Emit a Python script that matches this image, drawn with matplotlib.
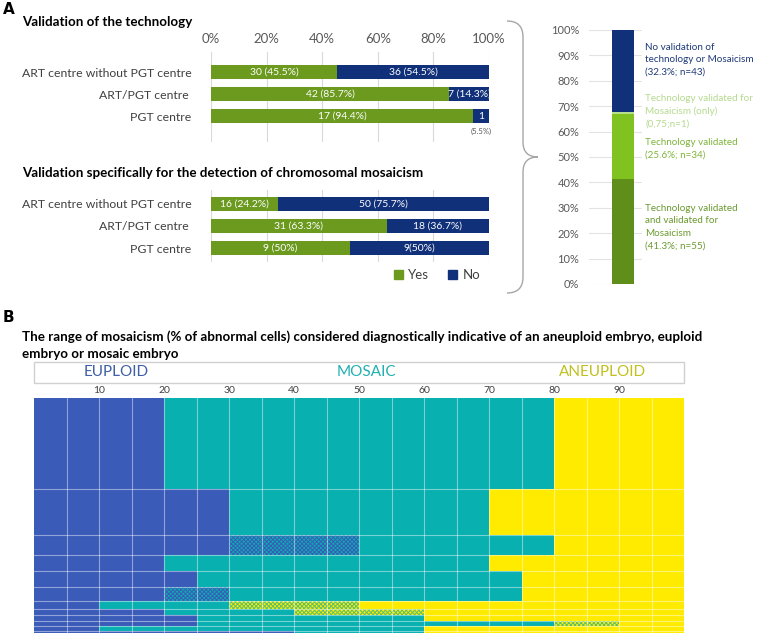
import numpy as np
import matplotlib
matplotlib.use("Agg")
import matplotlib.pyplot as plt
from matplotlib.path import Path
from matplotlib.patches import PathPatch, Rectangle, Patch

plt.rcParams['font.family'] = ['Lato', 'DejaVu Sans']
plt.rcParams['hatch.linewidth'] = 0.7

# --- data -------------------------------------------------------------
centres = ["ART centre without PGT centre", "ART/PGT centre ", "PGT centre"]

tech_yes_pct = [45.5, 85.7, 94.4]
tech_no_pct = [54.5, 14.3, 5.6]
tech_yes_lab = ["30 (45.5%)", "42 (85.7%)", "17 (94.4%)"]
tech_no_lab = ["36 (54.5%)", "7 (14.3%)", "1"]

mos_yes_pct = [24.2, 63.3, 50]
mos_no_pct = [75.7, 36.7, 50]
mos_yes_lab = ["16 (24.2%)", "31 (63.3%)", "9 (50%)"]
mos_no_lab = ["50 (75.7%)", "18 (36.7%)", "9(50%)"]

overall_pct = [41.3, 25.6, 0.75, 32.3]
overall_lab = ["Technology validated\nand validated for\nMosaicism\n(41.3%; n=55)",
               "Technology validated\n(25.6%; n=34)",
               "Technology validated for\nMosaicism (only)\n(0,75;n=1)",
               "No validation of\ntechnology or Mosaicism\n(32.3%; n=43)"]

# heatmap rows: boundaries (% abnormal cells) and category of each piece
# E = euploid, M = mosaic, A = aneuploid, EM / MA = overlapping ranges
row_edges = [[0, 20, 80, 100],
             [0, 30, 70, 100],
             [0, 30, 50, 80, 100],
             [0, 20, 70, 100],
             [0, 25, 75, 100],
             [0, 20, 30, 75, 100],
             [0, 10, 30, 50, 100],
             [0, 20, 40, 60, 100],
             [0, 25, 60, 100],
             [0, 25, 80, 90, 100],
             [0, 10, 60, 100],
             [0, 40, 60, 100]]
row_cats = [["E", "M", "A"],
            ["E", "M", "A"],
            ["E", "EM", "M", "A"],
            ["E", "M", "A"],
            ["E", "M", "A"],
            ["E", "EM", "M", "A"],
            ["E", "M", "MA", "A"],
            ["E", "M", "MA", "A"],
            ["E", "M", "A"],
            ["E", "M", "MA", "A"],
            ["E", "M", "A"],
            ["E", "M", "A"]]
row_weights = [40, 20, 9, 7, 7, 6, 3.5, 3, 2.5, 2.2, 2, 1]

# --- styles -----------------------------------------------------------
GREEN = "#6B9A1F"
NAVY = "#10307A"
GRAY_TXT = "#404040"
EUP, MOS, ANEU = "#3A5BB8", "#09B0B0", "#FFEB00"
cell_style = {"E": dict(color=EUP),
              "M": dict(color=MOS),
              "A": dict(color=ANEU),
              "EM": dict(facecolor=MOS, edgecolor=EUP, hatch="xxxxxxxx", linewidth=0),
              "MA": dict(facecolor=ANEU, edgecolor="#5CC070", hatch="xxxxxxxx", linewidth=0)}
overall_col = ["#5F8F1A", "#80C21F", "#B8E08C", NAVY]
overall_txt = ["#6A9A30", "#7EB43A", "#B5DA8E", "#1F3A78"]

W, H = 760, 641
fig = plt.figure(figsize=(W / 100, H / 100), dpi=100)


def add_ax(x0, y0, x1, y1):
    return fig.add_axes([x0 / W, 1 - y1 / H, (x1 - x0) / W, (y1 - y0) / H])


def bar_panel(ax, yes, no, yes_lab, no_lab):
    y = np.arange(len(centres))
    ax.barh(y, yes, height=0.64, color=GREEN, zorder=2)
    ax.barh(y, no, left=yes, height=0.64, color=NAVY, zorder=2)
    for i in y:
        ax.text(yes[i] / 2, i, yes_lab[i], ha='center', va='center', color='white', fontsize=7.5, zorder=3)
        ax.text(yes[i] + no[i] / 2, i, no_lab[i], ha='center', va='center', color='white', fontsize=7.5, zorder=3)
    ax.set_xlim(0, 100)
    ax.set_xticks(range(0, 101, 20))
    ax.grid(axis='x', color='#D9D9D9', lw=0.8)
    ax.set_axisbelow(True)
    ax.set_yticks(y, centres)
    ax.tick_params(axis='y', length=0, pad=14, labelsize=8.8, labelcolor=GRAY_TXT)
    ax.tick_params(axis='x', length=0)
    for s in ax.spines.values():
        s.set_visible(False)


# panel A, top
ax1 = add_ax(211, 52, 489, 142)
bar_panel(ax1, tech_yes_pct, tech_no_pct, tech_yes_lab, tech_no_lab)
ax1.set_ylim(3.18, -0.909)
ax1.xaxis.tick_top()
ax1.set_xticklabels([f"{v}%" for v in range(0, 101, 20)])
ax1.tick_params(axis='x', pad=5, labelsize=9.5, labelcolor="#595959")
ax1.text(97.2, 2.7, "(5.5%)", ha='center', va='center', fontsize=5.5, color="#595959")

# panel A, bottom
ax2 = add_ax(211, 190, 489, 262)
bar_panel(ax2, mos_yes_pct, mos_no_pct, mos_yes_lab, mos_no_lab)
ax2.set_ylim(2.636, -0.636)
ax2.tick_params(axis='x', labelbottom=False)
fig.legend(handles=[Patch(color=GREEN, label="Yes"), Patch(color=NAVY, label="No")],
           loc='center', bbox_to_anchor=(437 / W, 1 - 275 / H), ncol=2, frameon=False,
           fontsize=9.5, handlelength=0.7, handleheight=0.7, handletextpad=0.4,
           columnspacing=1.4, labelcolor=GRAY_TXT)

# panel A, right: overall stacked bar
ax3 = add_ax(589, 30, 642, 284)
bottom = 0
for v, c in zip(overall_pct, overall_col):
    ax3.bar(0.64, v, bottom=bottom, width=0.42, color=c, zorder=2)
    bottom += v
ax3.set_xlim(0, 1)
ax3.set_ylim(0, 100)
ax3.set_yticks(range(0, 101, 10), [f"{v}%" for v in range(0, 101, 10)])
ax3.grid(axis='y', color='#E3E3E3', lw=0.8)
ax3.set_axisbelow(True)
ax3.set_xticks([])
ax3.tick_params(axis='y', length=0, pad=7, labelsize=8, labelcolor="#595959")
for s in ax3.spines.values():
    s.set_visible(False)

# panel B heatmap
ax4 = add_ax(34, 398, 684, 633)
top = 0
for edges, cats, w in zip(row_edges, row_cats, row_weights):
    for a, b, c in zip(edges[:-1], edges[1:], cats):
        ax4.barh(top + w / 2, b - a, left=a, height=w, **cell_style[c])
    top += w
ax4.set_xlim(0, 100)
ax4.set_ylim(top, 0)
ax4.set_xticks(range(10, 100, 10))
ax4.set_xticks(range(5, 100, 5), minor=True)
ax4.set_yticks(np.cumsum(row_weights)[:-1])
ax4.xaxis.tick_top()
ax4.tick_params(axis='x', which='both', length=0, pad=2, labelsize=7.5, labelcolor=GRAY_TXT)
ax4.tick_params(axis='y', length=0, labelleft=False)
ax4.grid(which='both', color='white', alpha=0.45, lw=0.8)
ax4.set_axisbelow(False)
for s in ax4.spines.values():
    s.set_visible(False)

# overlay for titles, brace and labels (pixel coordinates)
ov = fig.add_axes([0, 0, 1, 1], facecolor='none')
ov.set_xlim(0, W)
ov.set_ylim(H, 0)
ov.axis('off')

ov.text(3, 10, "A", fontsize=11, fontweight='bold', va='center', family='DejaVu Sans')
ov.text(3, 318, "B", fontsize=11, fontweight='bold', va='center', family='DejaVu Sans')
ov.text(22, 22, "Validation of the technology", fontsize=9.6, fontweight='bold', va='center')
ov.text(22, 173, "Validation specifically for the detection of chromosomal mosaicism",
        fontsize=9.6, fontweight='bold', va='center')
ov.text(22, 337, "The range of mosaicism (% of abnormal cells) considered diagnostically "
        "indicative of an aneuploid embryo, euploid", fontsize=9.6, fontweight='bold', va='center')
ov.text(22, 354, "embryo or mosaic embryo", fontsize=9.6, fontweight='bold', va='center')

ov.add_patch(Rectangle((34, 362), 650, 21, fill=False, edgecolor='#D0D0D0', lw=1))
ov.text(116, 372.5, "EUPLOID", color="#4060A8", fontsize=11, ha='center', va='center')
ov.text(366, 372.5, "MOSAIC", color="#20B0B0", fontsize=11, ha='center', va='center')
ov.text(603, 372.5, "ANEUPLOID", color="#C0C020", fontsize=11, ha='center', va='center')

brace = Path([(507, 21), (523, 21), (523, 37), (523, 142), (523, 157), (538, 157),
              (523, 157), (523, 172), (523, 277), (523, 293), (507, 293)],
             [Path.MOVETO, Path.CURVE3, Path.CURVE3, Path.LINETO, Path.CURVE3, Path.CURVE3,
              Path.CURVE3, Path.CURVE3, Path.LINETO, Path.CURVE3, Path.CURVE3])
ov.add_patch(PathPatch(brace, fill=False, edgecolor='#A6A6A6', lw=1))

for lab, col, yc in zip(overall_lab, overall_txt, [227, 149, 111, 60]):
    ov.text(645, yc, lab, color=col, fontsize=7.1, va='center', ha='left', linespacing=1.5)

fig.savefig("out.png", dpi=100)
